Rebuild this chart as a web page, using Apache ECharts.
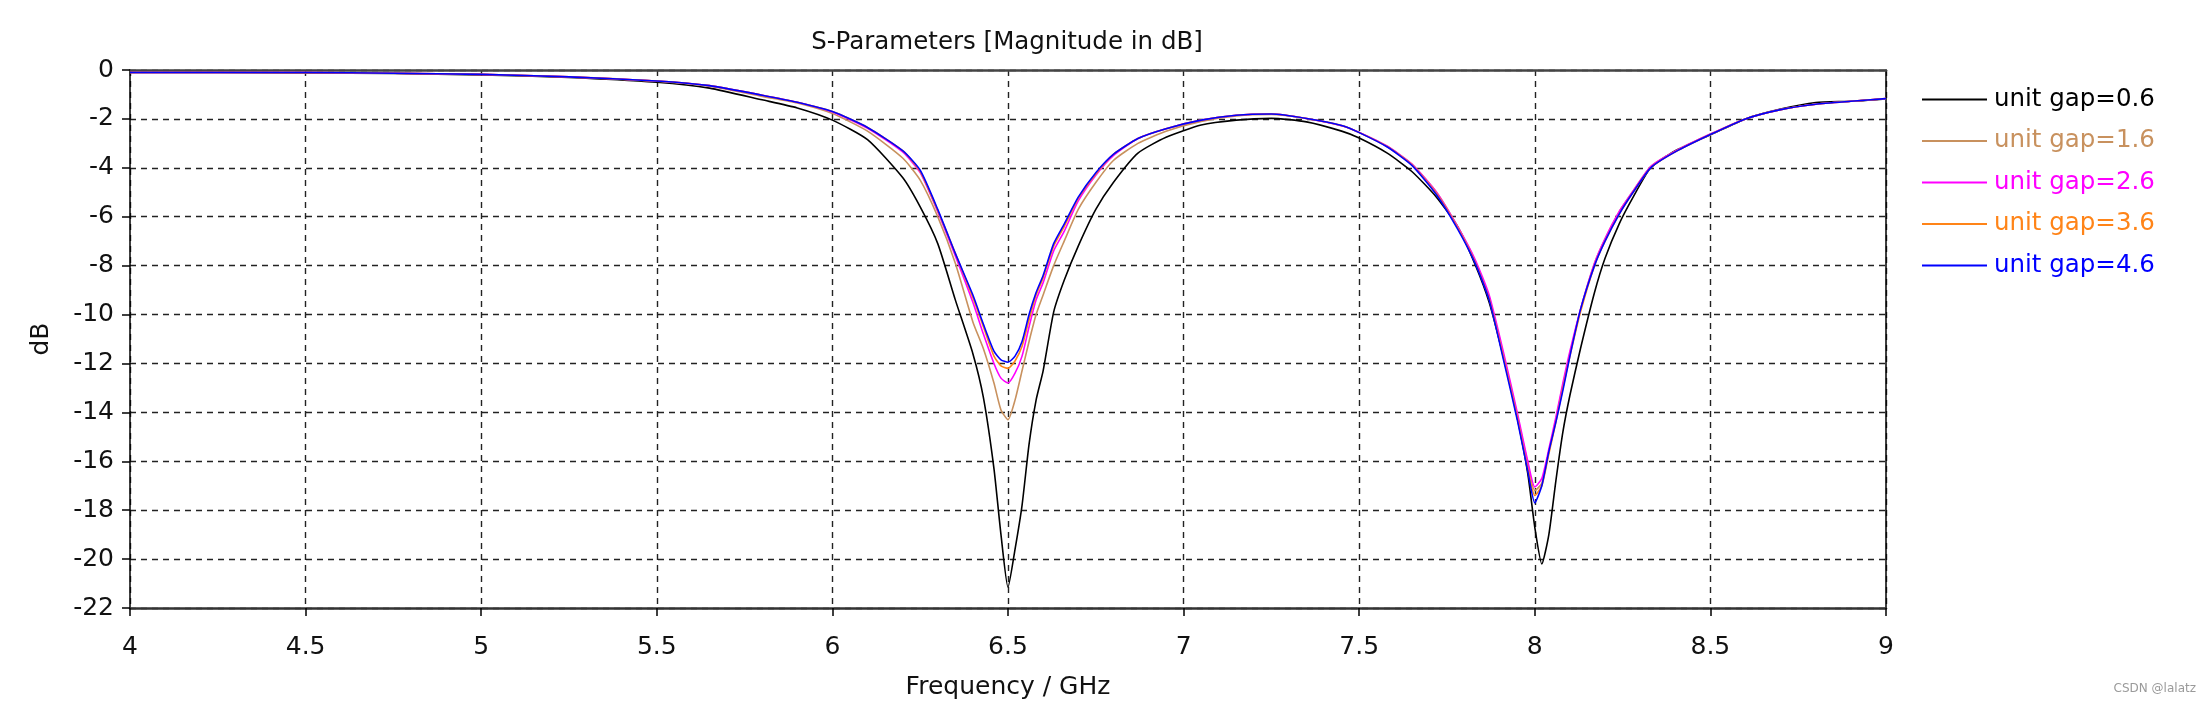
<!DOCTYPE html>
<html><head><meta charset="utf-8">
<script src="https://cdn.jsdelivr.net/npm/echarts@6/dist/echarts.min.js"></script>
<style>html,body{margin:0;padding:0;background:#fff}#c{width:2204px;height:705px}</style>
</head><body><div id="c"></div>
<script>
const titleText = 'S-Parameters [Magnitude in dB]';
const xName = 'Frequency / GHz';
const yName = 'dB';
const seriesNames = ['unit gap=0.6','unit gap=1.6','unit gap=2.6','unit gap=3.6','unit gap=4.6'];
const seriesColors = ['#000000','#c8915e','#ff00ff','#ff8418','#0000ff'];

const freq = [4.0,4.25,4.5,4.75,5.0,5.25,5.5,5.65,5.8,5.9,
  6.0,6.1,6.2,6.25,6.3,6.35,6.4,6.43,6.46,6.48,
  6.5,6.52,6.54,6.56,6.58,6.6,6.63,6.66,6.7,6.75,
  6.8,6.87,6.95,7.05,7.15,7.25,7.35,7.45,7.5,7.58,
  7.65,7.72,7.78,7.83,7.87,7.91,7.95,7.98,8.0,8.02,
  8.04,8.06,8.08,8.1,8.13,8.17,8.2,8.24,8.28,8.33,
  8.4,8.5,8.6,8.7,8.8,8.9,9.0];

const gap06 = [-0.10,-0.10,-0.12,-0.14,-0.20,-0.30,-0.50,-0.74,-1.22,-1.55,
  -2.05,-2.85,-4.4,-5.6,-7.1,-9.4,-11.6,-13.4,-16.3,-19.0,
  -21.15,-19.6,-17.8,-15.3,-13.5,-12.3,-9.9,-8.6,-7.2,-5.7,
  -4.6,-3.4,-2.75,-2.25,-2.05,-1.98,-2.12,-2.5,-2.78,-3.4,
  -4.15,-5.2,-6.4,-7.95,-9.5,-11.7,-14.2,-16.5,-18.7,-20.2,
  -19.0,-16.8,-14.8,-13.3,-11.4,-9.1,-7.7,-6.3,-5.2,-4.0,
  -3.3,-2.65,-2.0,-1.6,-1.33,-1.28,-1.18];

const gap16 = [-0.10,-0.10,-0.11,-0.13,-0.18,-0.28,-0.46,-0.66,-1.08,-1.35,
  -1.78,-2.5,-3.6,-4.5,-6.0,-7.9,-10.3,-11.4,-12.8,-13.9,
  -14.3,-13.5,-12.3,-11.1,-10.0,-9.2,-8.0,-7.0,-5.7,-4.6,
  -3.7,-3.0,-2.5,-2.1,-1.88,-1.82,-1.98,-2.28,-2.55,-3.12,
  -3.85,-5.0,-6.4,-7.8,-9.3,-11.6,-14.1,-16.1,-17.2,-16.9,
  -15.6,-14.3,-12.9,-11.6,-9.8,-7.9,-6.9,-5.8,-4.95,-3.95,
  -3.32,-2.62,-2.0,-1.62,-1.4,-1.28,-1.17];

const gap26 = [-0.10,-0.10,-0.10,-0.13,-0.18,-0.28,-0.45,-0.64,-1.03,-1.32,
  -1.72,-2.38,-3.35,-4.2,-5.8,-7.6,-9.5,-10.8,-12.0,-12.6,
  -12.8,-12.4,-11.7,-10.5,-9.4,-8.7,-7.4,-6.6,-5.35,-4.3,
  -3.5,-2.8,-2.4,-2.05,-1.85,-1.8,-1.98,-2.28,-2.55,-3.12,
  -3.85,-5.0,-6.4,-7.75,-9.2,-11.5,-14.0,-16.0,-17.05,-16.7,
  -15.5,-14.2,-12.8,-11.5,-9.8,-7.9,-6.9,-5.8,-4.95,-3.95,
  -3.32,-2.62,-2.0,-1.62,-1.4,-1.28,-1.17];

const gap36 = [-0.10,-0.10,-0.10,-0.13,-0.18,-0.28,-0.45,-0.64,-1.03,-1.32,
  -1.70,-2.35,-3.3,-4.15,-5.75,-7.5,-9.3,-10.5,-11.7,-12.1,
  -12.2,-11.9,-11.3,-10.2,-9.2,-8.5,-7.2,-6.4,-5.25,-4.25,
  -3.45,-2.8,-2.4,-2.05,-1.85,-1.8,-1.98,-2.27,-2.56,-3.14,
  -3.88,-5.05,-6.45,-7.85,-9.35,-11.7,-14.2,-16.3,-17.4,-17.0,
  -15.7,-14.4,-13.0,-11.7,-9.9,-8.0,-7.0,-5.9,-5.0,-4.0,
  -3.35,-2.64,-2.0,-1.62,-1.4,-1.28,-1.17];

const gap46 = [-0.10,-0.10,-0.10,-0.13,-0.18,-0.28,-0.45,-0.64,-1.03,-1.32,
  -1.70,-2.35,-3.3,-4.1,-5.7,-7.5,-9.2,-10.4,-11.5,-11.85,
  -11.95,-11.7,-11.1,-10.0,-9.1,-8.4,-7.1,-6.3,-5.2,-4.2,
  -3.45,-2.8,-2.4,-2.05,-1.85,-1.8,-1.98,-2.27,-2.56,-3.15,
  -3.9,-5.1,-6.5,-7.9,-9.4,-11.8,-14.3,-16.4,-17.7,-17.0,
  -15.6,-14.4,-13.1,-11.7,-9.8,-8.0,-7.0,-5.9,-5.0,-4.0,
  -3.35,-2.64,-2.0,-1.62,-1.4,-1.28,-1.17];

const seriesValues = [gap06, gap16, gap26, gap36, gap46];
const xMin = 4, xMax = 9, xStep = 0.5;
const yMin = -22, yMax = 0, yStep = 2;

const FONT = 'DejaVu Sans';
const chart = echarts.init(document.getElementById('c'), null, {renderer: 'canvas'});
const gridStyle = {show: true, lineStyle: {color: '#222', width: 1.4, type: [6, 5]}};

chart.setOption({
  animation: false,
  backgroundColor: '#fff',
  title: {
    text: titleText, left: 1002, top: 25, textAlign: 'center',
    textStyle: {fontFamily: FONT, fontSize: 24.5, fontWeight: 'normal', color: '#111'}
  },
  legend: {
    orient: 'vertical', left: 1917, top: 82,
    icon: 'rect', itemWidth: 65, itemHeight: 2, itemGap: 16.5,
    textStyle: {fontFamily: FONT, fontSize: 24.5, lineHeight: 22, padding: [0, 0, 0, 2]},
    data: seriesNames.map((n, i) => ({name: n, textStyle: {color: seriesColors[i]}}))
  },
  grid: {left: 130, right: 318, top: 70, bottom: 96, containLabel: false},
  xAxis: [{
    type: 'value', min: xMin, max: xMax, interval: xStep,
    name: xName, nameLocation: 'middle', nameGap: 67,
    nameTextStyle: {fontFamily: FONT, fontSize: 25, color: '#111'},
    axisLine: {show: true, onZero: false, lineStyle: {color: '#333', width: 2.5}},
    axisTick: {show: true, length: 8, lineStyle: {color: '#000', width: 1.5}},
    axisLabel: {fontFamily: FONT, fontSize: 25, color: '#111', margin: 27},
    splitLine: gridStyle
  }, {
    type: 'value', position: 'top', min: xMin, max: xMax,
    axisLine: {show: true, onZero: false, lineStyle: {color: '#444', width: 2.5}},
    axisTick: {show: false}, axisLabel: {show: false}, splitLine: {show: false}
  }],
  yAxis: [{
    type: 'value', min: yMin, max: yMax, interval: yStep,
    name: yName, nameLocation: 'middle', nameGap: 76,
    nameTextStyle: {fontFamily: FONT, fontSize: 25, color: '#111'},
    axisLine: {show: true, onZero: false, lineStyle: {color: '#000', width: 1.5}},
    axisTick: {show: true, length: 8, lineStyle: {color: '#000', width: 1.5}},
    axisLabel: {fontFamily: FONT, fontSize: 25, color: '#111', margin: 16},
    splitLine: gridStyle
  }, {
    type: 'value', position: 'right', min: yMin, max: yMax,
    axisLine: {show: true, onZero: false, lineStyle: {color: '#000', width: 1.5}},
    axisTick: {show: false}, axisLabel: {show: false}, splitLine: {show: false}
  }],
  graphic: [{
    type: 'text', right: 8, top: 683,
    style: {text: 'CSDN @lalatz', fill: '#9a9a9a', font: '12px ' + FONT}
  }],
  series: seriesNames.map((n, i) => ({
    name: n, type: 'line', xAxisIndex: 0, yAxisIndex: 0,
    data: freq.map((f, k) => [f, seriesValues[i][k]]),
    showSymbol: false, symbol: 'none', smooth: 0.2,
    lineStyle: {color: seriesColors[i], width: 1.6},
    itemStyle: {color: seriesColors[i]},
    z: 2 + i
  }))
});
</script></body></html>
